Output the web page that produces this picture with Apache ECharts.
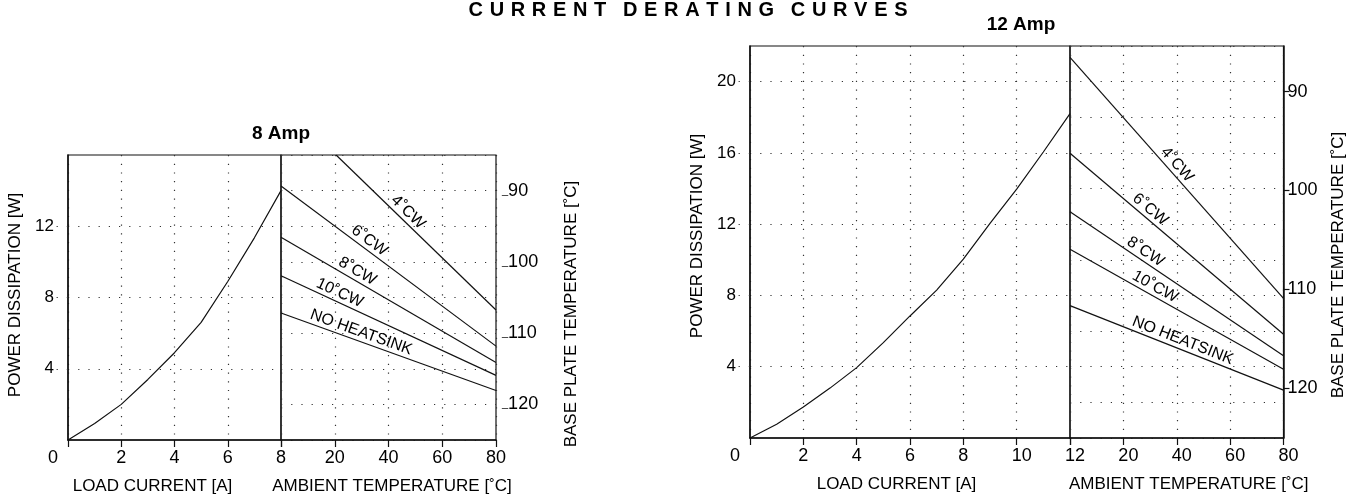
<!DOCTYPE html>
<html>
<head>
<meta charset="utf-8">
<title>Current derating curves</title>
<script src="https://cdn.jsdelivr.net/npm/echarts@6.0.0/dist/echarts.min.js"></script>
<style>
  html, body { margin: 0; padding: 0; background: #fff; }
  #chart { width: 1361px; height: 500px; }
</style>
</head>
<body>
<div id="chart"></div>
<script>
// titles
const mainTitle = 'CURRENT DERATING CURVES';
const chartTitles = ['8 Amp', '12 Amp'];

// load current [A] -> power dissipation [W]
const current8 = [0, 1, 2, 3, 4, 5, 6, 7, 8];
const power8 = [0, 0.93, 2.0, 3.4, 4.9, 6.6, 8.9, 11.35, 14.0];
const current12 = [0, 1, 2, 3, 4, 5, 6, 7, 8, 9, 10, 11, 12];
const power12 = [0, 0.77, 1.74, 2.8, 3.95, 5.35, 6.85, 8.3, 10.04, 12.05, 13.97, 16.05, 18.2];

// derating lines: ambient temperature [°C] -> power dissipation [W]
const curveNames = ['4˚CW', '6˚CW', '8˚CW', '10˚CW', 'NO HEATSINK'];
const ambient8 = [[20.5, 80], [0, 80], [0, 80], [0, 80], [0, 80]];
const derate8 = [[16, 7.3], [14.26, 5.27], [11.38, 4.35], [9.22, 3.63], [7.13, 2.78]];
const ambient12 = [[0, 80], [0, 80], [0, 80], [0, 80], [0, 80]];
const derate12 = [[21.36, 7.84], [15.98, 5.82], [12.7, 4.62], [10.59, 3.86], [7.43, 2.69]];
// where the curve names sit along each line (ambient temperature)
const labelAt8 = [44.9, 30.9, 26.7, 20.4, 28.7];
const labelAt12 = [37.6, 27.9, 26.4, 30.2, 41];

// tick labels
const powerTicks8 = [4, 8, 12];
const powerTicks12 = [4, 8, 12, 16, 20];
const baseTempTicks = [90, 100, 110, 120];

const FONT = "'Liberation Sans', Arial, sans-serif";
const INK = '#111';
const DOTS_X = { color: '#333', width: 1.2, type: [1.2, 7.5] };
const DOTS_Y = { color: '#333', width: 1.2, type: [1.2, 9] };

const zip = (xs, ys) => xs.map((x, i) => [x, ys[i]]);

/**
 * x axis for one panel
 */
function xAxis(gridIndex, max, interval, opts) {
  return {
    gridIndex,
    type: 'value',
    min: 0,
    max,
    interval,
    axisLine: { show: true, lineStyle: { color: INK, width: 1.5 } },
    axisTick: { show: true, length: 7, lineStyle: { color: INK, width: 1.2 } },
    axisLabel: {
      fontSize: 18,
      margin: 9,
      color: '#000',
      fontFamily: FONT,
      formatter: opts.formatter,
      rich: {
        z: { fontSize: 18, fontFamily: FONT, color: '#000', padding: [0, 30, 0, 0] },
        r: { fontSize: 18, fontFamily: FONT, color: '#000', padding: [0, 0, 0, 10] }
      }
    },
    splitLine: { show: true, lineStyle: DOTS_X },
    name: opts.name,
    nameLocation: 'middle',
    nameGap: 38,
    nameTextStyle: { fontSize: 17, color: '#000', fontFamily: FONT, padding: opts.namePadding }
  };
}

/**
 * power axis (left side of the current panel)
 */
function powerAxis(gridIndex, max, ticks, namePadding) {
  return {
    gridIndex,
    type: 'value',
    min: 0,
    max,
    interval: 2,
    axisLine: { show: true, lineStyle: { color: INK, width: 1.5 } },
    axisTick: { show: true, length: 12, customValues: ticks, lineStyle: DOTS_Y },
    axisLabel: { customValues: ticks, fontSize: 17, margin: 14, color: '#000', fontFamily: FONT },
    splitLine: { show: true, lineStyle: DOTS_Y },
    name: 'POWER DISSIPATION [W]',
    nameLocation: 'middle',
    nameRotate: 90,
    nameGap: 44,
    nameTextStyle: { fontSize: 17, color: '#000', fontFamily: FONT, padding: namePadding }
  };
}

/**
 * hidden power axis for the ambient panel (grid lines only)
 */
function hiddenPowerAxis(gridIndex, max) {
  return {
    gridIndex,
    type: 'value',
    min: 0,
    max,
    interval: 2,
    axisLine: { show: false },
    axisTick: { show: false },
    axisLabel: { show: false },
    splitLine: { show: true, lineStyle: DOTS_Y }
  };
}

/**
 * base plate temperature axis on the right, T = 125 - k * P
 */
function baseTempAxis(gridIndex, min, opts) {
  return {
    gridIndex,
    type: 'value',
    position: 'right',
    inverse: true,
    min,
    max: 125,
    axisLine: { show: opts.line, lineStyle: { color: INK, width: 1.5 } },
    axisTick: { show: opts.tick, length: 6, customValues: baseTempTicks, lineStyle: { color: INK, width: 1.2 } },
    axisLabel: {
      customValues: baseTempTicks,
      fontSize: 18,
      margin: opts.margin,
      color: '#000',
      fontFamily: FONT,
      formatter: opts.formatter,
      rich: {
        u: { fontSize: 11, fontFamily: FONT, color: '#000' },
        n: { fontSize: 18, fontFamily: FONT, color: '#000' }
      }
    },
    splitLine: { show: false },
    name: 'BASE PLATE TEMPERATURE [˚C]',
    nameLocation: 'middle',
    nameRotate: 90,
    nameGap: opts.nameGap,
    nameTextStyle: { fontSize: 17, color: '#000', fontFamily: FONT, padding: opts.namePadding }
  };
}

function lineSeries(xAxisIndex, yAxisIndex, data) {
  return {
    type: 'line',
    xAxisIndex,
    yAxisIndex,
    data,
    symbol: 'none',
    silent: true,
    lineStyle: { color: INK, width: 1.2 }
  };
}

// wide letter spacing of the heading, done with three-per-em / en spaces
const spacedTitle = mainTitle.split(' ').map(w => w.split('').join('\u2004')).join('\u2004\u2002');
const gridBox = { show: true, borderColor: INK, borderWidth: 1.2, backgroundColor: 'transparent' };

const option = {
  animation: false,
  textStyle: { fontFamily: FONT },
  title: [
    { text: spacedTitle, left: 688, top: 0, padding: 0, textAlign: 'center',
      textStyle: { fontSize: 20, fontWeight: 'bold', color: '#000', fontFamily: FONT } },
    { text: chartTitles[0], left: 281, top: 124, padding: 0, textAlign: 'center',
      textStyle: { fontSize: 19, fontWeight: 'bold', color: '#000', fontFamily: FONT } },
    { text: chartTitles[1], left: 1021, top: 15, padding: 0, textAlign: 'center',
      textStyle: { fontSize: 19, fontWeight: 'bold', color: '#000', fontFamily: FONT } }
  ],
  grid: [
    Object.assign({ left: 68, top: 155, width: 213, height: 285 }, gridBox),
    Object.assign({ left: 281, top: 155, width: 215, height: 285 }, gridBox),
    Object.assign({ left: 750, top: 46, width: 320, height: 392 }, gridBox),
    Object.assign({ left: 1070, top: 46, width: 213.5, height: 392 }, gridBox)
  ],
  xAxis: [
    xAxis(0, 8, 2, {
      name: 'LOAD CURRENT [A]', namePadding: [0, 44, 0, 0],
      formatter: v => (v === 0 ? '{z|0}' : String(v))
    }),
    xAxis(1, 80, 20, {
      name: 'AMBIENT TEMPERATURE [˚C]', namePadding: [0, 0, 0, 7],
      formatter: v => (v === 0 ? '' : String(v))
    }),
    xAxis(2, 12, 2, {
      name: 'LOAD CURRENT [A]', namePadding: [0, 27, 0, 0],
      formatter: v => (v === 0 ? '{z|0}' : v >= 10 ? '{r|' + v + '}' : String(v))
    }),
    xAxis(3, 80, 20, {
      name: 'AMBIENT TEMPERATURE [˚C]', namePadding: [0, 0, 0, 24],
      formatter: v => (v === 0 ? '' : '{r|' + v + '}')
    })
  ],
  yAxis: [
    powerAxis(0, 16, powerTicks8, [0, 0, 0, 5]),
    hiddenPowerAxis(1, 16),
    baseTempAxis(1, 85, {
      line: false, tick: false, margin: 6, nameGap: 67, namePadding: [0, 33, 0, 0],
      formatter: v => '{u|_}{n|' + v + '}'
    }),
    powerAxis(2, 22, powerTicks12, [0, 0, 0, 12]),
    hiddenPowerAxis(3, 22),
    baseTempAxis(3, 85.4, {
      line: true, tick: true, margin: 4, nameGap: 46, namePadding: [0, 46, 0, 0],
      formatter: v => String(v)
    })
  ],
  series: [
    lineSeries(0, 0, zip(current8, power8)),
    ...curveNames.map((n, i) => lineSeries(1, 1, zip(ambient8[i], derate8[i]))),
    lineSeries(2, 3, zip(current12, power12)),
    ...curveNames.map((n, i) => lineSeries(3, 4, zip(ambient12[i], derate12[i])))
  ]
};

const chart = echarts.init(document.getElementById('chart'), null, { renderer: 'canvas' });
chart.setOption(option);

/**
 * curve names written along their lines, just above them
 */
function curveLabels(firstSeries, ambient, derate, labelAt) {
  return curveNames.map((name, i) => {
    const finder = { seriesIndex: firstSeries + i };
    const p0 = chart.convertToPixel(finder, [ambient[i][0], derate[i][0]]);
    const p1 = chart.convertToPixel(finder, [ambient[i][1], derate[i][1]]);
    const dx = p1[0] - p0[0];
    const dy = p1[1] - p0[1];
    const len = Math.sqrt(dx * dx + dy * dy);
    const t = (labelAt[i] - ambient[i][0]) / (ambient[i][1] - ambient[i][0]);
    const off = 9;
    return {
      type: 'text',
      x: p0[0] + t * dx + (dy / len) * off,
      y: p0[1] + t * dy - (dx / len) * off,
      rotation: -Math.atan2(dy, dx),
      silent: true,
      style: {
        text: name,
        fill: '#000',
        font: '16px ' + FONT,
        align: 'center',
        verticalAlign: 'middle',
        textAlign: 'center',
        textVerticalAlign: 'middle'
      }
    };
  });
}

chart.setOption({
  graphic: [
    ...curveLabels(1, ambient8, derate8, labelAt8),
    ...curveLabels(7, ambient12, derate12, labelAt12)
  ]
});
</script>
</body>
</html>
